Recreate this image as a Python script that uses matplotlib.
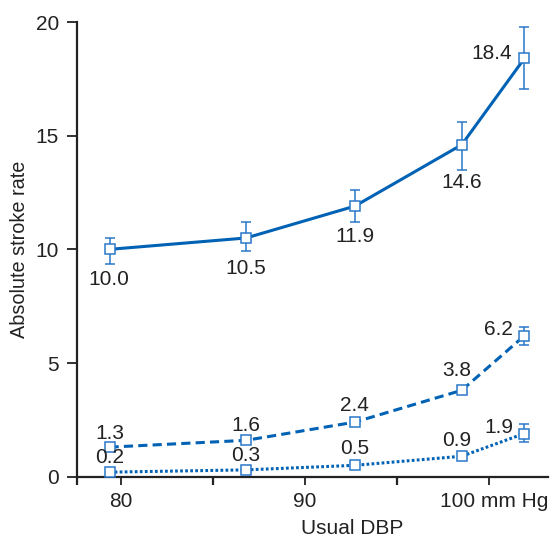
import matplotlib
matplotlib.use("Agg")
import matplotlib.pyplot as plt
from matplotlib.transforms import ScaledTranslation

plt.rcParams['font.family'] = ['Liberation Sans', 'DejaVu Sans']

# ---- data ----
dbp = [79.4, 86.8, 92.7, 98.5, 101.9]
solid_vals = [10.0, 10.5, 11.9, 14.6, 18.4]
solid_lo = [9.35, 9.94, 11.2, 13.5, 17.07]
solid_hi = [10.48, 11.19, 12.6, 15.6, 19.78]
dashed_vals = [1.3, 1.6, 2.4, 3.8, 6.2]
dashed_lo = [1.3, 1.6, 2.4, 3.8, 5.8]
dashed_hi = [1.3, 1.6, 2.4, 3.8, 6.6]
dotted_vals = [0.2, 0.3, 0.5, 0.9, 1.9]
dotted_lo = [0.2, 0.3, 0.5, 0.9, 1.51]
dotted_hi = [0.2, 0.3, 0.5, 0.9, 2.32]
solid_labels = ["10.0", "10.5", "11.9", "14.6", "18.4"]
dashed_labels = ["1.3", "1.6", "2.4", "3.8", "6.2"]
dotted_labels = ["0.2", "0.3", "0.5", "0.9", "1.9"]
xticks = [80, 90, 100]
xticklabels = ["80", "90", "100 mm Hg"]
yticks = [0, 5, 10, 15, 20]

# ---- style ----
W, H, DPI = 551, 541, 100
px = 72.0 / DPI
line_c = "#0062b4"
err_c = "#2a78c8"
txt_c = "#222222"
FS = 15

fig = plt.figure(figsize=(W / DPI, H / DPI), dpi=DPI)
ax = fig.add_axes([77.3 / W, 1 - 476.7 / H, (548 - 77.3) / W, (476.7 - 22) / H])

series = [
    (solid_vals, solid_lo, solid_hi, solid_labels, "-",
     [(-1, -30), (0, -31), (0, -30), (0, -38), (-33, 5)]),
    (dashed_vals, dashed_lo, dashed_hi, dashed_labels, (0, (3.0, 1.7)),
     [(0, 14), (0, 15), (0, 17), (-5, 20), (-26, 6)]),
    (dotted_vals, dotted_lo, dotted_hi, dotted_labels, (0, (0.9, 0.75)),
     [(0, 15), (0, 14), (0, 17), (-5, 16), (-26, 6)]),
]

for vals, lo, hi, labels, ls, offs in series:
    yerr = [[v - l for v, l in zip(vals, lo)], [h - v for v, h in zip(vals, hi)]]
    ax.errorbar(dbp, vals, yerr=yerr, fmt="none", ecolor=err_c, elinewidth=1.1,
                capsize=3.9, capthick=1.1, zorder=2, clip_on=False)
    ax.plot(dbp, vals, linestyle=ls, color=line_c, lw=2.2, zorder=3, clip_on=False,
            dash_capstyle="butt")
    ax.plot(dbp, vals, linestyle="none", marker="s", markersize=7.5,
            markerfacecolor="white", markeredgecolor=err_c, markeredgewidth=1.1,
            zorder=4, clip_on=False)
    for x, v, lab, (dx, dy) in zip(dbp, vals, labels, offs):
        ax.annotate(lab, (x, v), xytext=(dx * px, dy * px), textcoords="offset points",
                    ha="center", va="center", fontsize=FS, color=txt_c, zorder=5)

ax.set_xlim(77.65, 103.18)
ax.set_ylim(0, 20)
ax.set_xticks(xticks)
ax.set_xticklabels(xticklabels)
ax.set_xticks([77.65, 85, 95], minor=True)
ax.set_yticks(yticks)
ax.set_yticklabels([str(t) for t in yticks])

for s in ["top", "right"]:
    ax.spines[s].set_visible(False)
for s in ["left", "bottom"]:
    ax.spines[s].set_linewidth(1.6)
    ax.spines[s].set_color(txt_c)

ax.tick_params(axis="y", direction="out", length=7.2, width=1.3, colors=txt_c,
               labelsize=FS, pad=6)
ax.tick_params(axis="x", which="both", direction="out", length=6, width=1.3,
               colors=txt_c, labelsize=FS, pad=5)
ax.tick_params(axis="x", which="minor", width=1.6)

lbl = ax.get_xticklabels()[-1]
lbl.set_transform(lbl.get_transform() + ScaledTranslation(5 / DPI, 0, fig.dpi_scale_trans))

fig.text(20 / W, 1 - 249.4 / H, "Absolute stroke rate", rotation=90, ha="center",
         va="center", fontsize=14.3, color=txt_c)
fig.text(351.7 / W, 1 - 528 / H, "Usual DBP", ha="center", va="center",
         fontsize=15, color=txt_c)

fig.savefig("out.png", dpi=DPI)
